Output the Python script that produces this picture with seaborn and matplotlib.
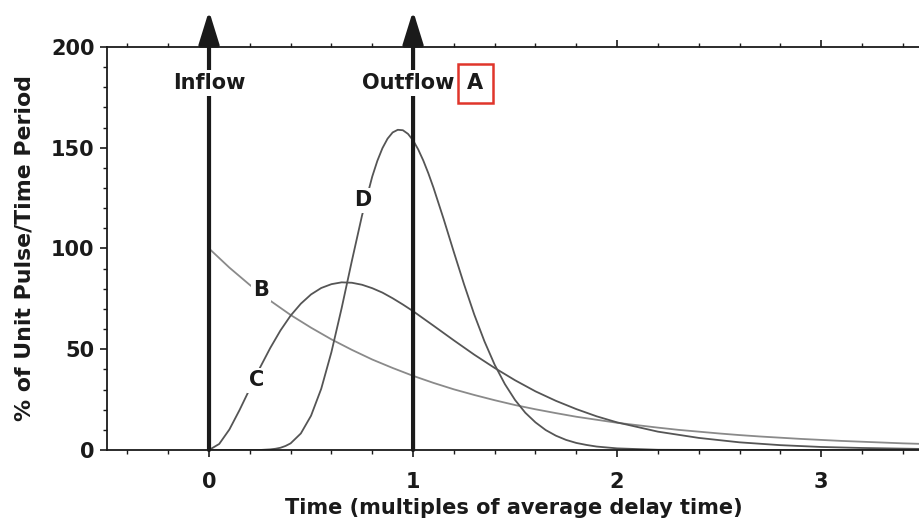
import numpy as np
import pandas as pd
import matplotlib
matplotlib.use("Agg")
import matplotlib.pyplot as plt
import seaborn as sns
from matplotlib.ticker import MultipleLocator

# ==============================
# DATA
# ==============================
# B: first-order delay response
time_b = [0.0, 0.1, 0.2, 0.3, 0.4, 0.5, 0.6, 0.7, 0.8, 0.9, 1.0, 1.1, 1.2,
          1.3, 1.4, 1.5, 1.6, 1.7, 1.8, 1.9, 2.0, 2.1, 2.2, 2.3, 2.4, 2.5,
          2.6, 2.7, 2.8, 2.9, 3.0, 3.1, 3.2, 3.3, 3.4, 3.5]
pct_b = [100.0, 90.5, 81.9, 74.1, 67.0, 60.7, 54.9, 49.7, 44.9, 40.7, 36.8,
         33.3, 30.1, 27.3, 24.7, 22.3, 20.2, 18.3, 16.5, 15.0, 13.5, 12.3,
         11.1, 10.0, 9.1, 8.2, 7.4, 6.7, 6.1, 5.5, 5.0, 4.5, 4.1, 3.7, 3.3, 3.0]

# C: third-order delay response
time_c = [0.0, 0.05, 0.1, 0.15, 0.2, 0.25, 0.3, 0.35, 0.4, 0.45, 0.5, 0.55,
          0.6, 0.65, 0.7, 0.75, 0.8, 0.85, 0.9, 0.95, 1.0, 1.1, 1.2, 1.3,
          1.4, 1.5, 1.6, 1.7, 1.8, 1.9, 2.0, 2.2, 2.4, 2.6, 2.8, 3.0, 3.2, 3.5]
pct_c = [0.0, 3.0, 10.2, 19.9, 30.4, 40.9, 50.6, 59.3, 66.7, 72.6, 77.2, 80.4,
         82.3, 83.2, 83.0, 82.0, 80.3, 78.1, 75.3, 72.2, 68.9, 61.7, 54.4,
         47.3, 40.7, 34.6, 29.1, 24.4, 20.3, 16.7, 13.7, 9.1, 6.0, 3.8, 2.4,
         1.5, 1.0, 0.5]

# D: high-order delay response
time_d = [0.0, 0.25, 0.3, 0.325, 0.35, 0.375, 0.4, 0.45, 0.5, 0.55, 0.6,
          0.65, 0.7, 0.75, 0.8, 0.825, 0.85, 0.875, 0.9, 0.925, 0.95, 0.975,
          1.0, 1.025, 1.05, 1.075, 1.1, 1.15, 1.2, 1.25, 1.3, 1.35, 1.4, 1.45,
          1.5, 1.55, 1.6, 1.65, 1.7, 1.75, 1.8, 1.85, 1.9, 2.0, 2.2, 2.5, 3.5]
pct_d = [0.0, 0.0, 0.3, 0.6, 1.1, 2.0, 3.3, 8.2, 17.0, 30.4, 48.6, 70.4,
         93.8, 116.4, 135.7, 143.5, 149.8, 154.5, 157.6, 158.9, 158.7, 156.9,
         153.7, 149.2, 143.7, 137.3, 130.2, 114.6, 98.2, 82.2, 67.2, 53.9,
         42.3, 32.7, 24.8, 18.5, 13.7, 9.9, 7.1, 5.0, 3.5, 2.5, 1.7, 0.8,
         0.1, 0.0, 0.0]

# pulse arrows
arrow_x = [0.0, 1.0]
arrow_text = ["Inflow", "Outflow"]
arrow_text_x = [0.0, 0.975]

curve_labels = ["B", "C", "D"]
curve_label_x = [0.255, 0.235, 0.755]
curve_label_y = [79.5, 34.5, 124.0]

x_ticks = [0, 1, 2, 3]
y_ticks = [0, 50, 100, 150, 200]

# ==============================
# STYLE
# ==============================
sns.set_style("ticks")
plt.rcParams["font.family"] = ["DejaVu Sans"]
plt.rcParams["font.weight"] = "bold"
plt.rcParams["axes.labelweight"] = "bold"

line_grey = "#555555"
ink = "#1a1a1a"

fig = plt.figure(figsize=(9.2, 5.21), dpi=100)
ax = fig.add_axes([0.1163, 0.1363, 0.8838, 0.7735])

frames = []
for name, t, v in [("B", time_b, pct_b), ("C", time_c, pct_c), ("D", time_d, pct_d)]:
    frames.append(pd.DataFrame({"time": t, "pct": v, "curve": name}))
df = pd.concat(frames, ignore_index=True)

sns.lineplot(data=df, x="time", y="pct", hue="curve",
             palette={"B": "#8a8a8a", "C": line_grey, "D": line_grey},
             linewidth=1.3, legend=False, ax=ax, zorder=2)

# thick pulse arrows
for xa in arrow_x:
    ax.annotate("", xy=(xa, 218), xytext=(xa, 0), annotation_clip=False,
                arrowprops=dict(arrowstyle="-|>,head_length=2.0,head_width=0.62",
                                lw=3.0, color=ink, shrinkA=0, shrinkB=0),
                zorder=3)

for xt, txt in zip(arrow_text_x, arrow_text):
    ax.text(xt, 182, txt, ha="center", va="center", fontsize=15,
            fontweight="bold", color=ink, zorder=5,
            bbox=dict(boxstyle="square,pad=0.15", fc="white", ec="none"))

ax.text(1.304, 182, "A", ha="center", va="center", fontsize=15,
        fontweight="bold", color=ink, zorder=5,
        bbox=dict(boxstyle="square,pad=0.45", fc="white", ec="#e0352b", lw=1.8))

for lab, lx, ly in zip(curve_labels, curve_label_x, curve_label_y):
    ax.text(lx, ly, lab, ha="center", va="center", fontsize=15,
            fontweight="bold", color=ink, zorder=5,
            bbox=dict(boxstyle="square,pad=0.12", fc="white", ec="none"))

# ==============================
# AXES
# ==============================
ax.set_xlim(-0.5, 3.485)
ax.set_ylim(0, 200)
ax.set_xticks(x_ticks)
ax.set_yticks(y_ticks)
ax.xaxis.set_minor_locator(MultipleLocator(0.2))
ax.yaxis.set_minor_locator(MultipleLocator(10))
ax.tick_params(axis="x", which="both", top=True, direction="out", colors=ink,
               labelsize=15, pad=11)
ax.tick_params(axis="y", which="both", direction="out", colors=ink,
               labelsize=15, pad=4)
ax.tick_params(which="major", length=5, width=1.2)
ax.tick_params(which="minor", length=3, width=1.0)
for lab in ax.get_xticklabels() + ax.get_yticklabels():
    lab.set_fontweight("bold")

for side in ["left", "bottom", "top"]:
    ax.spines[side].set_color(ink)
    ax.spines[side].set_linewidth(1.3)
ax.spines["right"].set_visible(False)

ax.set_xlabel("Time (multiples of average delay time)", fontsize=15,
              fontweight="bold", color=ink, labelpad=4)
ax.set_ylabel("% of Unit Pulse/Time Period", fontsize=15.8,
              fontweight="bold", color=ink, labelpad=12)

fig.savefig("out.png", dpi=100)
